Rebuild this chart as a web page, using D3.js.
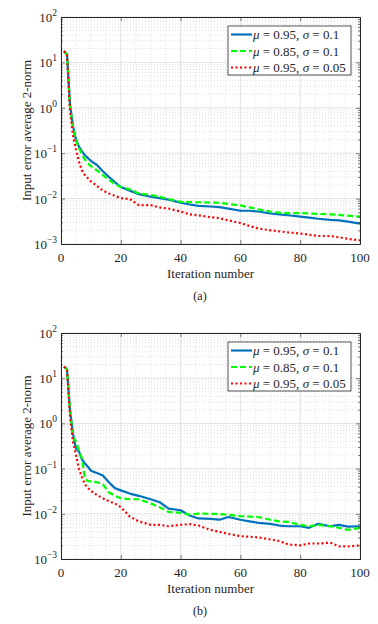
<!DOCTYPE html>
<html>
<head>
<meta charset="utf-8">
<script src="https://cdn.jsdelivr.net/npm/d3@7"></script>
<style>
  body { margin: 0; background: #fff; }
  text { font-family: "Liberation Serif", "Times New Roman", Times, serif; }
</style>
</head>
<body>
<div id="chart"></div>
<script>
var iterations = [1,2,3,4,5,6,7,8,9,10,12,14,16,18,20,23,26,30,33,36,40,43,46,50,53,56,60,63,66,70,73,76,80,83,86,90,93,96,100];

// Panel (a)
var aBlue = [17.5,15,1.2,0.4,0.2,0.14,0.11,0.09,0.078,0.068,0.055,0.04,0.03,0.023,0.018,0.015,0.0125,0.011,0.0102,0.0095,0.0081,0.0074,0.0069,0.0067,0.0065,0.006,0.0054,0.0054,0.0052,0.0047,0.0045,0.0043,0.004,0.0038,0.0036,0.0034,0.0033,0.0031,0.0028];
var aGreen = [17.5,15,1.1,0.36,0.19,0.13,0.095,0.072,0.06,0.052,0.042,0.033,0.026,0.021,0.018,0.016,0.013,0.012,0.011,0.0098,0.0085,0.0084,0.0083,0.0082,0.0081,0.0076,0.0071,0.0064,0.0058,0.0052,0.0049,0.0048,0.0048,0.0047,0.0046,0.0045,0.0044,0.0042,0.004];
var aRed = [17.8,15,0.9,0.25,0.12,0.065,0.042,0.033,0.028,0.024,0.019,0.015,0.013,0.0115,0.0102,0.0098,0.0072,0.0072,0.0064,0.006,0.0052,0.0045,0.0043,0.0039,0.0037,0.0033,0.0029,0.0025,0.0022,0.002,0.0019,0.0018,0.0017,0.0016,0.0015,0.0015,0.0014,0.0013,0.0012];

// Panel (b)
var bBlue = [18,15.8,2,0.6,0.28,0.24,0.16,0.13,0.11,0.09,0.08,0.07,0.05,0.037,0.033,0.028,0.025,0.021,0.018,0.013,0.012,0.0092,0.0079,0.0077,0.0074,0.0085,0.0074,0.0068,0.0063,0.006,0.0055,0.0053,0.0053,0.0049,0.006,0.0053,0.0057,0.0052,0.0053];
var bGreen = [18,15.8,2,0.5,0.4,0.25,0.17,0.06,0.053,0.052,0.05,0.045,0.03,0.025,0.022,0.021,0.021,0.017,0.014,0.011,0.0105,0.0096,0.0101,0.01,0.0099,0.0095,0.0089,0.0087,0.0085,0.0074,0.0068,0.0066,0.0057,0.0053,0.0057,0.0053,0.0049,0.0044,0.0049];
var bRed = [18,15.8,1.5,0.4,0.2,0.1,0.065,0.045,0.037,0.032,0.026,0.022,0.019,0.017,0.014,0.0087,0.0068,0.0057,0.0057,0.0053,0.0057,0.0059,0.0055,0.0044,0.004,0.0036,0.0032,0.0031,0.003,0.0027,0.0025,0.0021,0.002,0.0022,0.0022,0.0023,0.0019,0.0019,0.002];

var seriesNames = [["0.95", "0.1"], ["0.85", "0.1"], ["0.95", "0.05"]];
var xTicks = [0, 20, 40, 60, 80, 100];
var yExponents = [-3, -2, -1, 0, 1, 2];
var panelLabels = ["(a)", "(b)"];

var styles = [
  { color: "#0072BD", dash: null, width: 2.2 },
  { color: "#00FF00", dash: "6,3", width: 2.2 },
  { color: "#FF0000", dash: "2,2.5", width: 2.2 }
];

var serif = "'Liberation Serif', 'Times New Roman', Times, serif";

var svg = d3.select("#chart").append("svg")
  .attr("width", 378)
  .attr("height", 624)
  .attr("font-family", serif);

var margin = { left: 61, right: 18 };
var panels = [
  { top: 17, bottom: 244, data: [aBlue, aGreen, aRed], label: panelLabels[0] },
  { top: 333, bottom: 559, data: [bBlue, bGreen, bRed], label: panelLabels[1] }
];

var axisColor = "#262626";

panels.forEach(function(p) {
  var x = d3.scaleLinear().domain([0, 100]).range([margin.left, 378 - margin.right]);
  var y = d3.scaleLog().domain([1e-3, 1e2]).range([p.bottom, p.top]);
  var g = svg.append("g");

  // minor grid
  var minorY = [];
  for (var e = -3; e < 2; e++) {
    for (var m = 2; m <= 9; m++) minorY.push(m * Math.pow(10, e));
  }
  var minorX = d3.range(0, 101, 5).filter(function(d) { return d % 20 !== 0; });

  g.selectAll(".mgy").data(minorY).enter().append("line")
    .attr("x1", x(0)).attr("x2", x(100))
    .attr("y1", d => y(d)).attr("y2", d => y(d))
    .attr("stroke", "#c8c8c8").attr("stroke-width", 0.6).attr("stroke-dasharray", "1,2");
  g.selectAll(".mgx").data(minorX).enter().append("line")
    .attr("y1", y(1e-3)).attr("y2", y(1e2))
    .attr("x1", d => x(d)).attr("x2", d => x(d))
    .attr("stroke", "#d0d0d0").attr("stroke-width", 0.6).attr("stroke-dasharray", "1,2");

  // major grid
  g.selectAll(".gy").data(yExponents).enter().append("line")
    .attr("x1", x(0)).attr("x2", x(100))
    .attr("y1", d => y(Math.pow(10, d))).attr("y2", d => y(Math.pow(10, d)))
    .attr("stroke", "#e3e3e3").attr("stroke-width", 1);
  g.selectAll(".gx").data(xTicks).enter().append("line")
    .attr("y1", y(1e-3)).attr("y2", y(1e2))
    .attr("x1", d => x(d)).attr("x2", d => x(d))
    .attr("stroke", "#e3e3e3").attr("stroke-width", 1);

  // curves
  var line = d3.line()
    .x(function(d, i) { return x(iterations[i]); })
    .y(function(d) { return y(d); });

  p.data.forEach(function(vals, k) {
    g.append("path")
      .datum(vals)
      .attr("d", line)
      .attr("fill", "none")
      .attr("stroke", styles[k].color)
      .attr("stroke-width", styles[k].width)
      .attr("stroke-dasharray", styles[k].dash)
      .attr("stroke-linejoin", "round");
  });

  // axes (ticks inward, box)
  var yVals = yExponents.map(e => Math.pow(10, e));
  var axes = [
    { ax: d3.axisBottom(x).tickValues(xTicks).tickSize(-4), tr: `translate(0, ${p.bottom})` },
    { ax: d3.axisTop(x).tickValues(xTicks).tickSize(-4), tr: `translate(0, ${p.top})` },
    { ax: d3.axisLeft(y).tickValues(yVals).tickSize(-4), tr: `translate(${x(0)}, 0)` },
    { ax: d3.axisRight(y).tickValues(yVals).tickSize(-4), tr: `translate(${x(100)}, 0)` },
    { ax: d3.axisLeft(y).tickValues(minorY).tickSize(-2), tr: `translate(${x(0)}, 0)` },
    { ax: d3.axisRight(y).tickValues(minorY).tickSize(-2), tr: `translate(${x(100)}, 0)` }
  ];
  axes.forEach(function(a) {
    var ag = g.append("g").attr("transform", a.tr).call(a.ax.tickFormat("").tickSizeOuter(0));
    ag.attr("font-family", null);
    ag.selectAll("line").attr("stroke", axisColor).attr("stroke-width", 0.6);
    ag.select(".domain").attr("stroke", axisColor).attr("stroke-width", 1);
  });

  // x tick labels
  g.selectAll(".xl").data(xTicks).enter().append("text")
    .attr("x", d => x(d))
    .attr("y", p.bottom + 18)
    .attr("text-anchor", "middle")
    .attr("font-size", 13)
    .attr("fill", axisColor)
    .text(d => d);

  // y tick labels with superscript
  yExponents.forEach(function(e) {
    var t = g.append("text")
      .attr("x", x(0) - 4)
      .attr("y", y(Math.pow(10, e)) + 5)
      .attr("text-anchor", "end")
      .attr("font-size", 13)
      .attr("fill", axisColor);
    t.append("tspan").text("10");
    t.append("tspan").attr("dy", -6).attr("font-size", 9.5)
      .text(e < 0 ? "\u2212" + (-e) : e);
  });

  // axis titles
  var mid = (p.top + p.bottom) / 2;
  g.append("text")
    .attr("transform", `translate(31, ${mid}) rotate(-90)`)
    .attr("text-anchor", "middle")
    .attr("font-size", 13)
    .attr("fill", axisColor)
    .text("Input error average 2-norm");

  g.append("text")
    .attr("x", x(50))
    .attr("y", p.bottom + 34)
    .attr("text-anchor", "middle")
    .attr("font-size", 13)
    .attr("fill", axisColor)
    .text("Iteration number");

  g.append("text")
    .attr("x", x(46.5))
    .attr("y", p.bottom + 56)
    .attr("text-anchor", "middle")
    .attr("font-size", 12)
    .attr("fill", "#1a1a1a")
    .text(p.label);

  // legend
  var lg = g.append("g").attr("transform", `translate(228, ${p.top + 9})`);
  lg.append("rect")
    .attr("width", 123).attr("height", 49)
    .attr("fill", "#fff").attr("stroke", axisColor).attr("stroke-width", 0.8);
  seriesNames.forEach(function(s, k) {
    var yy = 8.5 + k * 16.5;
    lg.append("line")
      .attr("x1", 3).attr("x2", 24).attr("y1", yy).attr("y2", yy)
      .attr("stroke", styles[k].color)
      .attr("stroke-width", styles[k].width)
      .attr("stroke-dasharray", styles[k].dash);
    var t = lg.append("text")
      .attr("x", 25).attr("y", yy + 4.5)
      .attr("font-size", 13)
      .attr("fill", axisColor);
    t.append("tspan").attr("font-style", "italic").text("\u03bc");
    t.append("tspan").text(" = " + s[0] + ", ");
    t.append("tspan").attr("font-style", "italic").text("\u03c3");
    t.append("tspan").text(" = " + s[1]);
  });
});
</script>
</body>
</html>
